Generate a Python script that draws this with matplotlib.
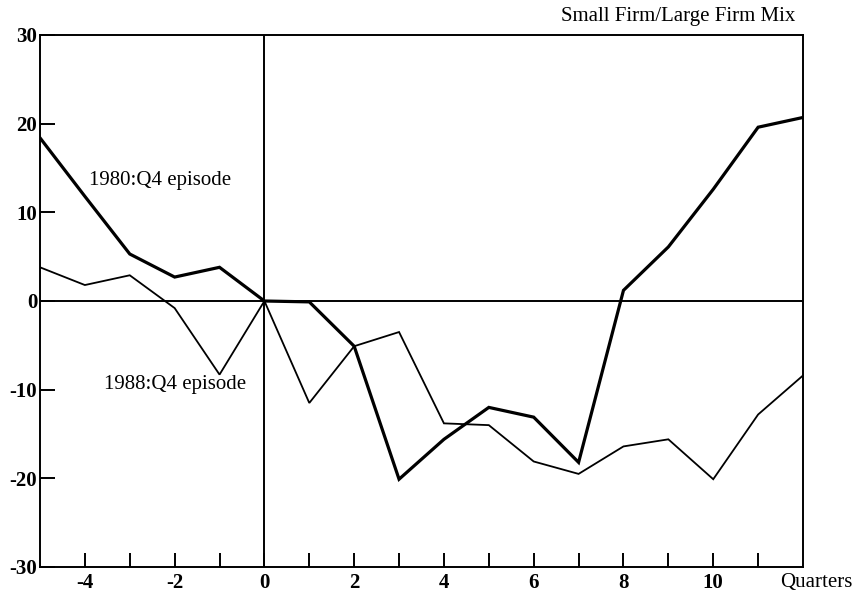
import numpy as np
import matplotlib.pyplot as plt
from matplotlib.ticker import MultipleLocator

# quarters relative to the episode start
quarters = list(range(-5, 13))

# small firm / large firm mix, 1980:Q4 episode (heavy line)
mix_1980 = [18.4, 11.8, 5.3, 2.7, 3.8, 0.0, -0.1, -5.1, -20.1, -15.6,
            -12.0, -13.1, -18.2, 1.2, 6.1, 12.6, 19.6, 20.7]

# small firm / large firm mix, 1988:Q4 episode (light line)
mix_1988 = [3.8, 1.8, 2.9, -0.8, -8.3, 0.0, -11.5, -5.1, -3.5, -13.8,
            -14.0, -18.1, -19.5, -16.4, -15.6, -20.1, -12.8, -8.4]

x_labels = [-4, -2, 0, 2, 4, 6, 8, 10]
y_ticks = [30, 20, 10, 0, -10, -20, -30]

plt.rcParams['font.family'] = ['Liberation Serif', 'DejaVu Serif']

fig = plt.figure(figsize=(8.61, 5.94), dpi=100)
ax = fig.add_axes([40 / 861, 27 / 594, 763 / 861, 532 / 594])

ax.plot(quarters, mix_1980, color='black', lw=2.3, solid_joinstyle='miter')
ax.plot(quarters, mix_1988, color='black', lw=1.3, solid_joinstyle='miter')

# reference lines through the origin
ax.axhline(0, color='black', lw=1.4)
ax.axvline(0, color='black', lw=1.4)

ax.set_xlim(-5, 12)
ax.set_ylim(-30, 30)

for side in ['left', 'right', 'top', 'bottom']:
    ax.spines[side].set_linewidth(1.4)
    ax.spines[side].set_color('black')

ax.xaxis.set_major_locator(MultipleLocator(1))
ax.set_xticks(quarters[1:-1])
ax.set_xticklabels([str(q) if q in x_labels else '' for q in quarters[1:-1]])
ax.set_yticks(y_ticks)
ax.set_yticklabels([str(v) for v in y_ticks])

ax.tick_params(axis='x', direction='in', length=10, width=1.4, pad=4,
               labelsize=15, top=False)
ax.tick_params(axis='y', direction='in', length=11, width=1.4, pad=2,
               labelsize=15, right=False)
for lbl in ax.get_xticklabels() + ax.get_yticklabels():
    lbl.set_fontweight('bold')

ax.text(12.3, -0.012, 'Quarters', transform=ax.get_xaxis_transform(),
        ha='center', va='top', fontsize=15)

ax.text(-2.32, 13.6, '1980:Q4 episode', ha='center', va='center', fontsize=15)
ax.text(-2.0, -9.4, '1988:Q4 episode', ha='center', va='center', fontsize=15)

fig.text(795 / 861, 1 - 17 / 594, 'Small Firm/Large Firm Mix',
         ha='right', va='center', fontsize=15)

fig.savefig('out.png', dpi=100)
